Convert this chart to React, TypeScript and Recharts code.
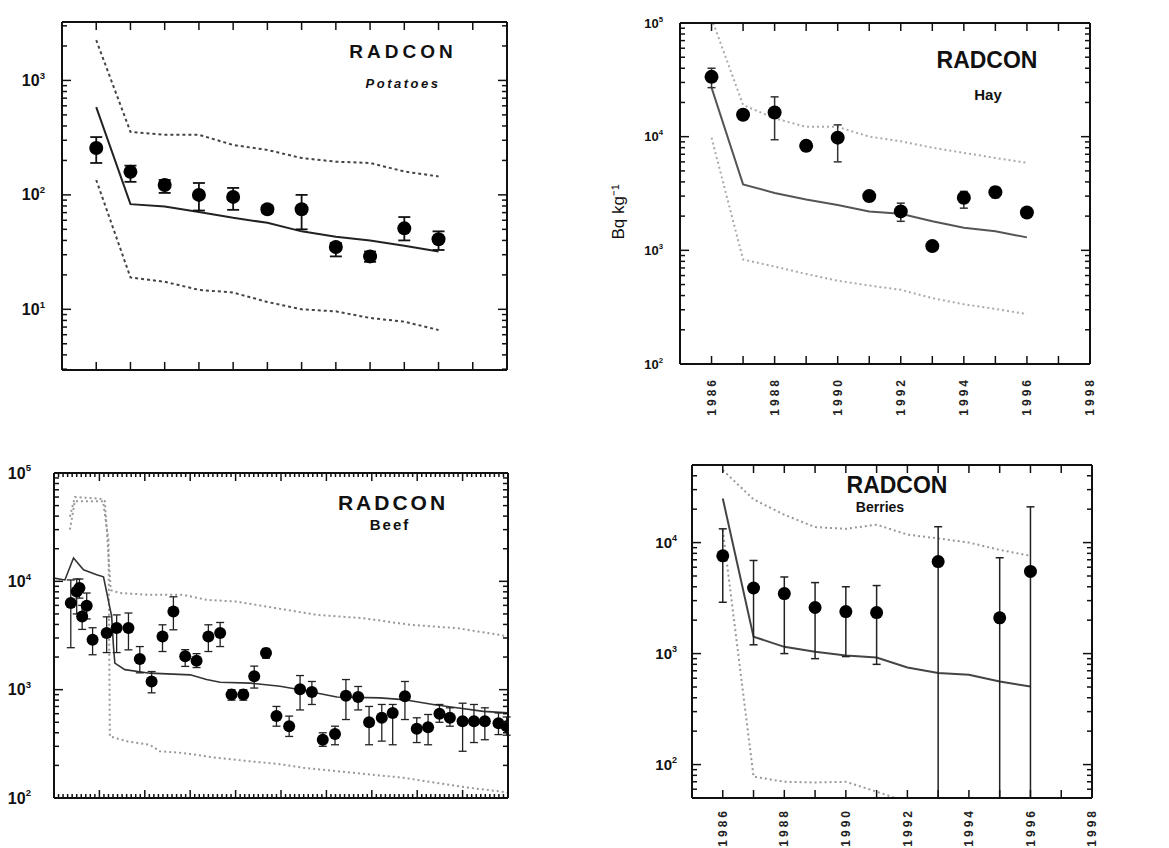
import React from 'react';
import { ComposedChart, Line, Scatter, ErrorBar, XAxis, YAxis } from 'recharts';

const FONT = '"Liberation Sans", Arial, Helvetica, sans-serif';

// years on the annual panels
const years = [1986, 1987, 1988, 1989, 1990, 1991, 1992, 1993, 1994, 1995, 1996];
const yearTicks = [1986, 1987, 1988, 1989, 1990, 1991, 1992, 1993, 1994, 1995, 1996, 1997, 1998];
const potatoTicks = [1986, 1987, 1988, 1989, 1990, 1991, 1992, 1993, 1994, 1995, 1996, 1997];

// Potatoes
const potatoObs = [257, 159, 122, 100, 96, 75, 75, 35, 29, 51, 41];
const potatoLo = [190, 130, 104, 73, 74, 70, 50, 29, 26, 40, 33];
const potatoHi = [320, 180, 135, 127, 115, 80, 100, 38, 32, 64, 48];
const potatoModel = [585, 83, 79, 71, 63, 57, 48, 43, 40, 36, 32];
const potatoUpper = [2250, 355, 335, 335, 273, 247, 210, 195, 190, 160, 145];
const potatoLower = [135, 19, 17.4, 14.8, 14, 11.6, 10, 9.6, 8.4, 7.8, 6.6];

// Hay
const hayObs = [33600, 15600, 16300, 8300, 9800, 3000, 2200, 1090, 2900, 3250, 2150];
const hayLo = [27000, 14500, 9400, 7500, 6000, 2700, 1800, 1000, 2350, 2900, 2000];
const hayHi = [40000, 16800, 22400, 9200, 12700, 3300, 2600, 1200, 3300, 3600, 2300];
const hayModel = [27000, 3800, 3200, 2800, 2500, 2200, 2100, 1800, 1580, 1470, 1300];
const hayUpper = [110000, 19000, 14500, 12200, 12200, 10000, 9100, 8000, 7200, 6500, 5900];
const hayLower = [9800, 830, 720, 620, 540, 490, 450, 380, 335, 305, 275];

// Beef (time in decimal years)
const beefT = [1986.37, 1986.5, 1986.56, 1986.62, 1986.72, 1986.85, 1987.16, 1987.38, 1987.64, 1987.89,
  1988.15, 1988.39, 1988.63, 1988.89, 1989.14, 1989.4, 1989.66, 1989.91, 1990.17, 1990.41, 1990.67,
  1990.9, 1991.18, 1991.42, 1991.68, 1991.92, 1992.19, 1992.43, 1992.7, 1992.94, 1993.22, 1993.46,
  1993.73, 1993.99, 1994.24, 1994.49, 1994.72, 1995.0, 1995.25, 1995.49, 1995.79, 1995.97];
const beefObs = [6300, 8050, 8700, 4730, 5950, 2890, 3330, 3700, 3700, 1920, 1190, 3100, 5270, 2030,
  1850, 3100, 3330, 900, 900, 1330, 2180, 570, 460, 1010, 950, 345, 390, 880, 855, 500, 550, 610, 870,
  435, 450, 600, 550, 510, 510, 510, 490, 460];
const beefLo = [2440, 5000, 7000, 3600, 4500, 2100, 2200, 2200, 2330, 1430, 935, 2250, 3570, 1640, 1600,
  2250, 2500, 800, 800, 1035, 1950, 460, 370, 650, 730, 300, 310, 530, 650, 310, 335, 310, 530, 325, 310,
  500, 460, 270, 325, 345, 385, 380];
const beefHi = [10300, 10500, 10500, 6000, 7800, 3730, 4700, 4900, 5100, 2500, 1470, 3970, 7200, 2340,
  2150, 3970, 4170, 1000, 1000, 1650, 2400, 700, 570, 1350, 1190, 400, 460, 1240, 1070, 700, 730, 730,
  1190, 550, 590, 730, 680, 750, 730, 680, 610, 560];
const beefModelT = [1986.0, 1986.24, 1986.43, 1986.65, 1986.94, 1987.09, 1987.27, 1987.31, 1987.34, 1987.56,
  1988.11, 1989.0, 1989.36, 1989.66, 1990.32, 1990.98, 1991.42, 1992.23, 1993.18, 1993.69, 1994.35,
  1994.87, 1995.46, 1996.0];
const beefModel = [10700, 10300, 16400, 12800, 11500, 11000, 4740, 2500, 1760, 1530, 1420, 1370, 1240,
  1170, 1150, 1075, 1000, 855, 840, 810, 730, 680, 630, 610];
const beefUpperT = [1986.35, 1986.46, 1987.01, 1987.12, 1987.19, 1987.25, 1987.45, 1988.11, 1988.85,
  1989.36, 1990.02, 1990.68, 1991.79, 1992.81, 1993.84, 1994.87, 1995.82, 1996.0];
const beefUpper = [39500, 60000, 58000, 55000, 20000, 8300, 7800, 7500, 7500, 6750, 6500, 5850, 4900,
  4570, 3970, 3700, 3200, 3100];
const beefLowerT = [1986.35, 1986.46, 1987.08, 1987.2, 1987.23, 1987.62, 1988.11, 1988.33, 1988.85,
  1989.58, 1990.32, 1990.98, 1991.49, 1992.23, 1992.96, 1993.69, 1994.43, 1995.16, 1995.82, 1996.0];
const beefLower = [30000, 55000, 55000, 24000, 370, 333, 310, 270, 260, 235, 218, 205, 190, 177, 165,
  154, 138, 124, 115, 112];
const beefMajorT = [1987, 1988, 1989, 1990, 1991, 1992, 1993, 1994, 1995];

// Berries
const berryObsYears = [1986, 1987, 1988, 1989, 1990, 1991, 1993, 1995, 1996];
const berryObs = [7600, 3900, 3470, 2600, 2390, 2340, 6740, 2100, 5500];
const berryLo = [2900, 1200, 1000, 900, 940, 800, 50, 50, 50];
const berryHi = [13300, 6900, 4900, 4360, 4000, 4100, 13900, 7300, 21000];
const berryModel = [25000, 1420, 1150, 1040, 960, 920, 750, 670, 645, 560, 505];
const berryUpper = [45000, 24500, 17800, 13800, 13300, 14500, 11800, 10900, 10000, 8600, 7600];
const berryLowerYears = [1986, 1987, 1988, 1989, 1990, 1991, 1992];
const berryLower = [13000, 78, 70, 69, 70, 57, 46];

const pts = (xs: number[], vs: number[]) => xs.map((x, i) => ({ x, v: vs[i] }));
const obsRows = (xs: number[], vs: number[], lo: number[], hi: number[]) =>
  xs.map((x, i) => ({ x, v: vs[i], err: [vs[i] - lo[i], hi[i] - vs[i]] }));

const logMinor = (lo: number, hi: number) => {
  const out: number[] = [];
  for (let d = Math.floor(Math.log10(lo)); d <= Math.ceil(Math.log10(hi)); d++) {
    for (let m = 2; m <= 9; m++) {
      const v = m * Math.pow(10, d);
      if (v >= lo && v <= hi) out.push(v);
    }
  }
  return out;
};

const beefMinorT: number[] = [];
for (let i = 1; i < 100; i++) {
  const v = Math.round((1986 + i * 0.1) * 10) / 10;
  if (!Number.isInteger(v)) beefMinorT.push(v);
}

const INK = '#111';

type PanelProps = {
  left: number; top: number; width: number; height: number;
  margin: { top: number; right: number; bottom: number; left: number };
  yAxisWidth: number; xAxisHeight: number;
  xDomain: [number, number]; xMajor: number[]; xMinor?: number[];
  xLabel?: (v: number) => string; xLabelMargin?: number; xFont?: number;
  yDomain: [number, number]; yMajor: number[]; yLabelMargin: number; yFont: number;
  children: React.ReactNode;
};

const Panel = (p: PanelProps) => {
  const xMaj = new Set(p.xMajor);
  const yMaj = new Set(p.yMajor);
  const xTicks = [...p.xMajor, ...(p.xMinor || [])].sort((a, b) => a - b);
  const yTicks = [...p.yMajor, ...logMinor(p.yDomain[0], p.yDomain[1])].sort((a, b) => a - b);
  const xm = p.xLabelMargin ?? 10;
  const xf = p.xFont ?? 12;
  // the frame's corners, so the top and right axes get a scale of their own
  const frame = [{ x: p.xDomain[0], v: p.yDomain[0] }, { x: p.xDomain[1], v: p.yDomain[1] }];

  const leftTick = (t: any) => {
    const v = t.payload.value;
    const ax = t.x + p.yLabelMargin;
    const major = yMaj.has(v);
    return (
      <g>
        <line x1={ax} x2={ax + (major ? 9 : 5)} y1={t.y} y2={t.y} stroke={INK} strokeWidth={1.5} />
        {major && (
          <text x={t.x} y={t.y} dy="0.35em" textAnchor="end" fontFamily={FONT} fontWeight="bold"
            fontSize={p.yFont} fill={INK}>
            10<tspan dy={-p.yFont * 0.45} fontSize={p.yFont * 0.6}>{Math.round(Math.log10(v))}</tspan>
          </text>
        )}
      </g>
    );
  };
  const rightTick = (t: any) => {
    const major = yMaj.has(t.payload.value);
    return <line x1={t.x} x2={t.x - (major ? 9 : 5)} y1={t.y} y2={t.y} stroke={INK} strokeWidth={1.5} />;
  };
  const topTick = (t: any) => {
    const major = xMaj.has(t.payload.value);
    return <line x1={t.x} x2={t.x} y1={t.y} y2={t.y + (major ? 8 : 4)} stroke={INK} strokeWidth={1.5} />;
  };
  const bottomTick = (t: any) => {
    const v = t.payload.value;
    const ay = t.y - xm;
    const major = xMaj.has(v);
    const lab = major && p.xLabel ? p.xLabel(v) : '';
    return (
      <g>
        <line x1={t.x} x2={t.x} y1={ay} y2={ay - (major ? 8 : 4)} stroke={INK} strokeWidth={1.5} />
        {lab && (
          <text x={t.x} y={t.y} dy="0.35em" textAnchor="end" transform={`rotate(-90 ${t.x} ${t.y})`}
            fontFamily={FONT} fontWeight="bold" fontSize={xf} letterSpacing={3} fill="#222">
            {lab}
          </text>
        )}
      </g>
    );
  };

  const axisLine = { stroke: INK, strokeWidth: 2 };
  return (
    <div style={{ position: 'absolute', left: p.left, top: p.top }}>
      <ComposedChart width={p.width} height={p.height} margin={p.margin}>
        <XAxis xAxisId="b" dataKey="x" type="number" scale="linear" domain={p.xDomain} allowDataOverflow
          ticks={xTicks} interval={0} tick={bottomTick} tickLine={false} tickSize={0} tickMargin={xm}
          height={p.xAxisHeight} axisLine={axisLine} />
        <XAxis xAxisId="t" orientation="top" dataKey="x" type="number" domain={p.xDomain} allowDataOverflow
          ticks={xTicks} interval={0} tick={topTick} tickLine={false} tickSize={0} tickMargin={0}
          height={1} axisLine={axisLine} />
        <YAxis yAxisId="l" type="number" scale="log" domain={p.yDomain} allowDataOverflow
          ticks={yTicks} interval={0} tick={leftTick} tickLine={false} tickSize={0} tickMargin={p.yLabelMargin}
          width={p.yAxisWidth} axisLine={axisLine} />
        <YAxis yAxisId="r" orientation="right" type="number" scale="log" domain={p.yDomain} allowDataOverflow
          ticks={yTicks} interval={0} tick={rightTick} tickLine={false} tickSize={0} tickMargin={0}
          width={1} axisLine={axisLine} />
        <Line xAxisId="t" yAxisId="r" data={frame} dataKey="v" stroke="none" dot={false}
          isAnimationActive={false} />
        {p.children}
      </ComposedChart>
    </div>
  );
};

const dot = (r: number) => (s: any) => <circle cx={s.cx} cy={s.cy} r={r} fill="#000" />;

const even = (v: number) => (v % 2 === 0 ? String(v) : '');

export default function App() {
  return (
    <div style={{ position: 'absolute', left: 0, top: 0, width: 1169, height: 848, background: '#fff' }}>
      {/* Potatoes */}
      <Panel left={0} top={0} width={530} height={390}
        margin={{ top: 21, right: 22, bottom: 10, left: 12 }} yAxisWidth={50} xAxisHeight={10}
        xDomain={[1985, 1998]} xMajor={potatoTicks}
        yDomain={[2.95, 3240]} yMajor={[10, 100, 1000]} yLabelMargin={17} yFont={16}>
        <Line xAxisId="b" yAxisId="l" data={pts(years, potatoUpper)} dataKey="v" type="linear" stroke="#444"
          strokeWidth={2} strokeDasharray="3 3" dot={false} isAnimationActive={false} />
        <Line xAxisId="b" yAxisId="l" data={pts(years, potatoLower)} dataKey="v" type="linear" stroke="#444"
          strokeWidth={2} strokeDasharray="3 3" dot={false} isAnimationActive={false} />
        <Line xAxisId="b" yAxisId="l" data={pts(years, potatoModel)} dataKey="v" type="linear" stroke="#222"
          strokeWidth={2} dot={false} isAnimationActive={false} />
        <Scatter xAxisId="b" yAxisId="l" data={obsRows(years, potatoObs, potatoLo, potatoHi)} dataKey="v"
          shape={dot(7)} isAnimationActive={false}>
          <ErrorBar dataKey="err" direction="y" width={6} stroke="#111" strokeWidth={1.8} />
        </Scatter>
      </Panel>

      {/* Hay */}
      <Panel left={580} top={0} width={589} height={430}
        margin={{ top: 22, right: 78, bottom: 10, left: 40 }} yAxisWidth={60} xAxisHeight={56}
        xDomain={[1985, 1998]} xMajor={yearTicks} xLabel={even} xLabelMargin={13}
        yDomain={[100, 100000]} yMajor={[100, 1000, 10000, 100000]} yLabelMargin={17} yFont={13}>
        <Line xAxisId="b" yAxisId="l" data={pts(years, hayUpper)} dataKey="v" type="linear" stroke="#aaa"
          strokeWidth={2} strokeDasharray="2 3" dot={false} isAnimationActive={false} />
        <Line xAxisId="b" yAxisId="l" data={pts(years, hayLower)} dataKey="v" type="linear" stroke="#aaa"
          strokeWidth={2} strokeDasharray="2 3" dot={false} isAnimationActive={false} />
        <Line xAxisId="b" yAxisId="l" data={pts(years, hayModel)} dataKey="v" type="linear" stroke="#555"
          strokeWidth={2} dot={false} isAnimationActive={false} />
        <Scatter xAxisId="b" yAxisId="l" data={obsRows(years, hayObs, hayLo, hayHi)} dataKey="v"
          shape={dot(7)} isAnimationActive={false}>
          <ErrorBar dataKey="err" direction="y" width={4} stroke="#333" strokeWidth={1.5} />
        </Scatter>
      </Panel>

      {/* Beef */}
      <Panel left={0} top={430} width={530} height={418}
        margin={{ top: 42, right: 21, bottom: 30, left: 4 }} yAxisWidth={50} xAxisHeight={20}
        xDomain={[1986, 1996]} xMajor={beefMajorT} xMinor={beefMinorT}
        yDomain={[100, 100000]} yMajor={[100, 1000, 10000, 100000]} yLabelMargin={23} yFont={16}>
        <Line xAxisId="b" yAxisId="l" data={pts(beefUpperT, beefUpper)} dataKey="v" type="linear" stroke="#999"
          strokeWidth={2} strokeDasharray="2 3" dot={false} isAnimationActive={false} />
        <Line xAxisId="b" yAxisId="l" data={pts(beefLowerT, beefLower)} dataKey="v" type="linear" stroke="#999"
          strokeWidth={2} strokeDasharray="2 3" dot={false} isAnimationActive={false} />
        <Line xAxisId="b" yAxisId="l" data={pts(beefModelT, beefModel)} dataKey="v" type="linear" stroke="#333"
          strokeWidth={1.6} dot={false} isAnimationActive={false} />
        <Scatter xAxisId="b" yAxisId="l" data={obsRows(beefT, beefObs, beefLo, beefHi)} dataKey="v"
          shape={dot(6)} isAnimationActive={false}>
          <ErrorBar dataKey="err" direction="y" width={4} stroke="#222" strokeWidth={1.3} />
        </Scatter>
      </Panel>

      {/* Berries */}
      <Panel left={580} top={430} width={589} height={418}
        margin={{ top: 34, right: 76, bottom: 2, left: 52 }} yAxisWidth={60} xAxisHeight={48}
        xDomain={[1985, 1998]} xMajor={yearTicks} xLabel={even} xLabelMargin={10}
        yDomain={[50, 50000]} yMajor={[100, 1000, 10000]} yLabelMargin={15} yFont={15}>
        <Line xAxisId="b" yAxisId="l" data={pts(years, berryUpper)} dataKey="v" type="linear" stroke="#999"
          strokeWidth={2} strokeDasharray="2 3" dot={false} isAnimationActive={false} />
        <Line xAxisId="b" yAxisId="l" data={pts(berryLowerYears, berryLower)} dataKey="v" type="linear"
          stroke="#999" strokeWidth={2} strokeDasharray="2 3" dot={false} isAnimationActive={false} />
        <Line xAxisId="b" yAxisId="l" data={pts(years, berryModel)} dataKey="v" type="linear" stroke="#444"
          strokeWidth={2} dot={false} isAnimationActive={false} />
        <Scatter xAxisId="b" yAxisId="l" data={obsRows(berryObsYears, berryObs, berryLo, berryHi)} dataKey="v"
          shape={dot(6.5)} isAnimationActive={false}>
          <ErrorBar dataKey="err" direction="y" width={4} stroke="#222" strokeWidth={1.5} />
        </Scatter>
      </Panel>

      {/* panel titles and axis title */}
      <svg width={1169} height={848} style={{ position: 'absolute', left: 0, top: 0, pointerEvents: 'none' }}
        fontFamily={FONT} fill="#111">
        <text x={403} y={58} textAnchor="middle" fontSize={19} fontWeight="bold" letterSpacing={4}>RADCON</text>
        <text x={403} y={88} textAnchor="middle" fontSize={13} fontWeight="bold" fontStyle="italic" letterSpacing={2.5}>Potatoes</text>
        <text x={987} y={68} textAnchor="middle" fontSize={23} fontWeight="bold">RADCON</text>
        <text x={988} y={100} textAnchor="middle" fontSize={15} fontWeight="bold">Hay</text>
        <text x={393} y={510} textAnchor="middle" fontSize={21} fontWeight="bold" letterSpacing={3}>RADCON</text>
        <text x={390} y={530} textAnchor="middle" fontSize={15} fontWeight="bold" letterSpacing={2}>Beef</text>
        <text x={897} y={493} textAnchor="middle" fontSize={23} fontWeight="bold">RADCON</text>
        <text x={880} y={512} textAnchor="middle" fontSize={14} fontWeight="bold">Berries</text>
        <text x={618} y={212} textAnchor="middle" dy="0.35em" fontSize={17} transform="rotate(-90 618 212)">Bq kg⁻¹</text>
      </svg>
    </div>
  );
}
